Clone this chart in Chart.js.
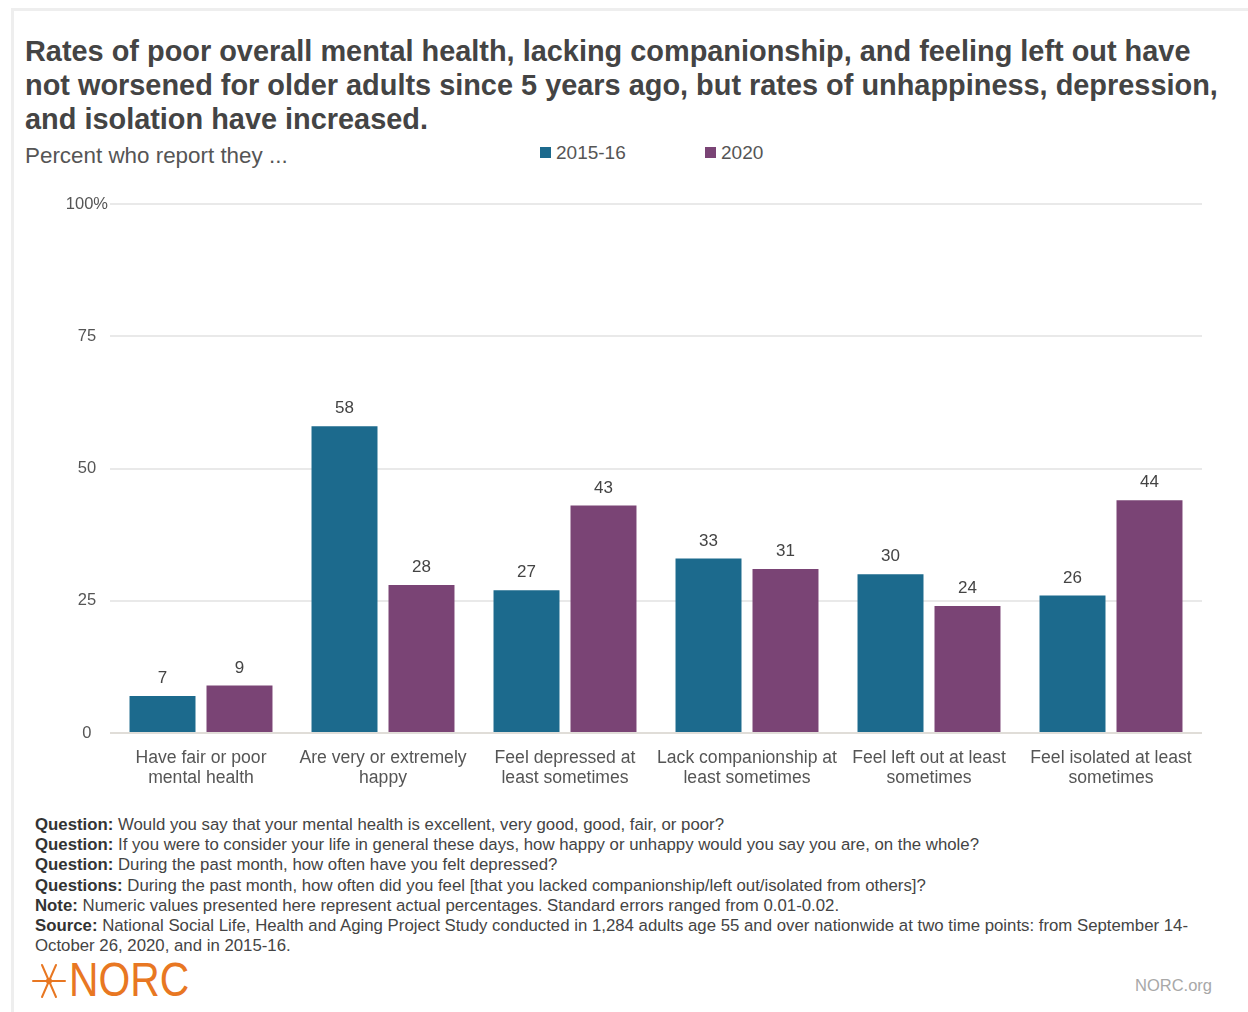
<!DOCTYPE html>
<html>
<head>
<meta charset="utf-8">
<script src="https://cdn.jsdelivr.net/npm/chart.js@4.4.1/dist/chart.umd.min.js"></script>
<style>
  html, body { margin: 0; padding: 0; background: #fff; }
  body { width: 1248px; height: 1012px; position: relative; overflow: hidden;
         font-family: "Liberation Sans", Arial, Helvetica, sans-serif; }
  .frame { position: absolute; left: 11px; top: 8px; right: -10px; bottom: -10px;
           border-top: 3px solid #eeeeee; border-left: 3px solid #eeeeee; }
  h1 { position: absolute; left: 25px; top: 34px; width: 1223px; margin: 0; white-space: nowrap;
       font-size: 28.9px; line-height: 34px; font-weight: bold; color: #444; }
  .sub { position: absolute; left: 25px; top: 143px; font-size: 22.4px; color: #555; }
  .legend { position: absolute; top: 142px; left: 540px; font-size: 19px; color: #555; }
  .legend span { position: absolute; white-space: nowrap; }
  .legend i { display: inline-block; width: 11px; height: 11px; margin-right: 5px; vertical-align: 1px; }
  #wrap { position: absolute; left: 40px; top: 190px; width: 1162px; height: 600px; }
  .notes { position: absolute; left: 35px; top: 815px; width: 1210px; font-size: 16.8px;
           line-height: 20.2px; color: #444; white-space: nowrap; }
  .notes b { color: #333; }
  .logo { position: absolute; left: 31px; top: 955px; height: 50px; }
  .logo svg { position: absolute; left: 0; top: 8px; }
  .logo span { position: absolute; left: 38px; top: -3px; font-size: 48px; color: #e87722;
               transform: scaleX(0.85); transform-origin: left top; white-space: nowrap; }
  .site { position: absolute; left: 1135px; top: 976px; font-size: 16.5px; color: #a8a8a8; }
</style>
</head>
<body>
<div class="frame"></div>
<h1>Rates of poor overall mental health, lacking companionship, and feeling left out have<br>not worsened for older adults since 5 years ago, but rates of unhappiness, depression,<br>and isolation have increased.</h1>
<div class="sub">Percent who report they ...</div>
<div class="legend" id="legend"></div>
<div id="wrap"><canvas id="barChart"></canvas></div>
<div class="notes">
  <b>Question:</b> Would you say that your mental health is excellent, very good, good, fair, or poor?<br>
  <b>Question:</b> If you were to consider your life in general these days, how happy or unhappy would you say you are, on the whole?<br>
  <b>Question:</b> During the past month, how often have you felt depressed?<br>
  <b>Questions:</b> During the past month, how often did you feel [that you lacked companionship/left out/isolated from others]?<br>
  <b>Note:</b> Numeric values presented here represent actual percentages. Standard errors ranged from 0.01-0.02.<br>
  <b>Source:</b> National Social Life, Health and Aging Project Study conducted in 1,284 adults age 55 and over nationwide at two time points: from September 14-<br>October 26, 2020, and in 2015-16.
</div>
<div class="logo">
  <svg width="36" height="36" viewBox="0 0 36 36">
    <g stroke="#e87722" stroke-width="2" stroke-linecap="round">
      <line x1="2" y1="18" x2="34" y2="18"/>
      <line x1="11" y1="2" x2="25" y2="34"/>
      <line x1="25" y1="2" x2="11" y2="34"/>
    </g>
    <circle cx="18" cy="18" r="3" fill="#e87722"/>
  </svg>
  <span>NORC</span>
</div>
<div class="site">NORC.org</div>

<script>
const categories = [
  ["Have fair or poor", "mental health"],
  ["Are very or extremely", "happy"],
  ["Feel depressed at", "least sometimes"],
  ["Lack companionship at", "least sometimes"],
  ["Feel left out at least", "sometimes"],
  ["Feel isolated at least", "sometimes"],
];
const seriesNames = ["2015-16", "2020"];
const values2015 = [7, 58, 27, 33, 30, 26];
const values2020 = [9, 28, 43, 31, 24, 44];
const yTicks = [0, 25, 50, 75, 100];
const colors = ["#1c6a8d", "#7a4475"];

const FONT = '"Liberation Sans", Arial, Helvetica, sans-serif';

// legend sits next to the subtitle, so it's plain html
const legendEl = document.getElementById("legend");
seriesNames.forEach((name, i) => {
  const s = document.createElement("span");
  s.style.left = i * 165 + "px";
  s.innerHTML = '<i style="background:' + colors[i] + '"></i>' + name;
  legendEl.appendChild(s);
});

// value labels on top of each bar
const barValues = {
  id: "barValues",
  afterDatasetsDraw(chart) {
    const ctx = chart.ctx;
    ctx.save();
    ctx.font = "17px " + FONT;
    ctx.fillStyle = "#444";
    ctx.textAlign = "center";
    ctx.textBaseline = "bottom";
    chart.data.datasets.forEach((ds, di) => {
      chart.getDatasetMeta(di).data.forEach((bar, i) => {
        ctx.fillText(ds.data[i], bar.x, bar.y - 9);
      });
    });
    ctx.restore();
  },
};

var ctx = document.getElementById("barChart").getContext("2d");
var barChart = new Chart(ctx, {
  type: "bar",
  data: {
    labels: categories,
    datasets: [
      { label: seriesNames[0], data: values2015, backgroundColor: colors[0] },
      { label: seriesNames[1], data: values2020, backgroundColor: colors[1] },
    ],
  },
  options: {
    responsive: true,
    maintainAspectRatio: false,
    animation: false,
    layout: { padding: { top: 14, right: 0, left: 0, bottom: 0 } },
    categoryPercentage: 0.846,
    barPercentage: 0.857,
    plugins: {
      legend: { display: false },
      tooltip: { enabled: false },
    },
    scales: {
      x: {
        grid: { display: false },
        border: { display: false },
        ticks: {
          color: "#555",
          font: { family: FONT, size: 17.6, lineHeight: 1.16 },
          padding: 7,
          maxRotation: 0,
          autoSkip: false,
        },
        afterFit: (scale) => { scale.height = 57; },
      },
      y: {
        min: 0,
        max: 100,
        afterBuildTicks: (scale) => { scale.ticks = yTicks.map((v) => ({ value: v })); },
        grid: {
          drawTicks: false,
          lineWidth: 2,
          color: (c) => (c.tick && c.tick.value === 0 ? "#e0ddd8" : "#e9e9e9"),
        },
        border: { display: false },
        ticks: {
          color: "#555",
          crossAlign: "center",
          padding: 2,
          font: { family: FONT, size: 16.5 },
          callback: (v) => (v === 100 ? "100%" : v),
        },
        afterFit: (scale) => { scale.width = 70; },
      },
    },
  },
  plugins: [barValues],
});
</script>
</body>
</html>
